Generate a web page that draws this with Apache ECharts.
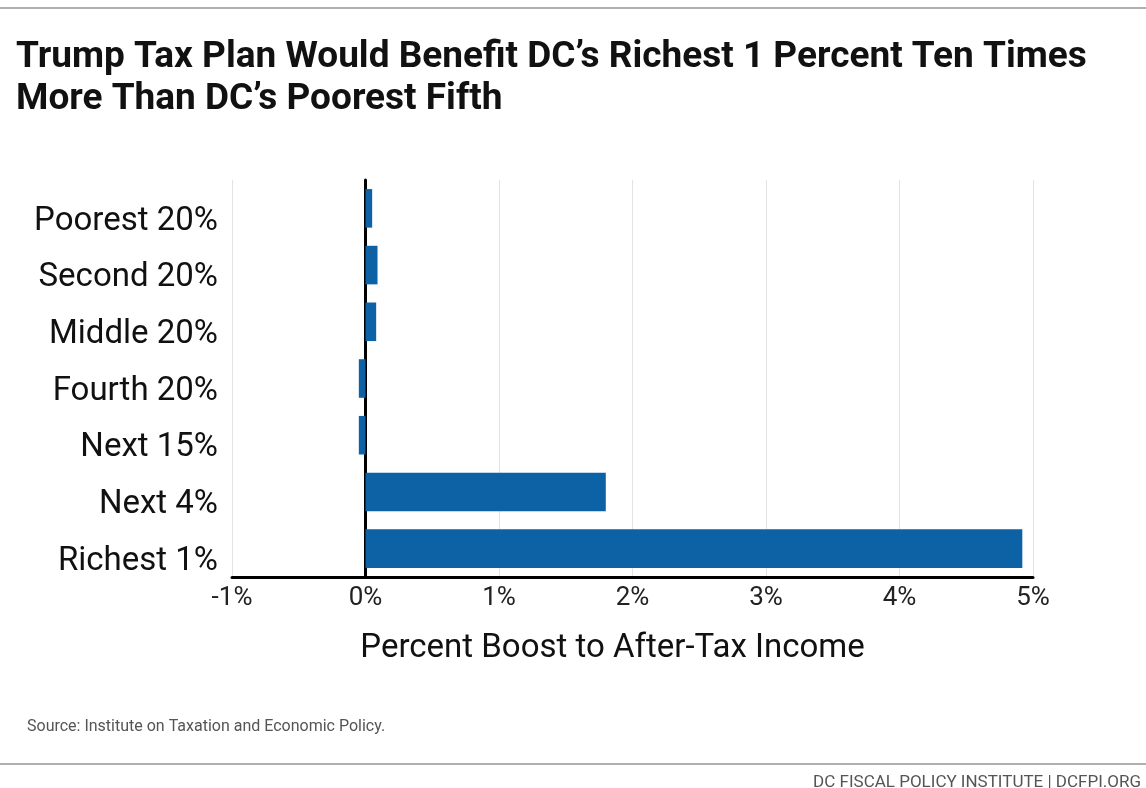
<!DOCTYPE html>
<html><head><meta charset="utf-8">
<script src="https://cdn.jsdelivr.net/npm/echarts@6/dist/echarts.min.js"></script>
<style>html,body{margin:0;padding:0;background:#fff}#c{width:1146px;height:788px}</style>
</head><body><div id="c"></div>
<script>
const categories = ["Poorest 20%","Second 20%","Middle 20%","Fourth 20%","Next 15%","Next 4%","Richest 1%"];
const values = [0.05, 0.09, 0.08, -0.05, -0.05, 1.8, 4.92];
const xTicks = [-1, 0, 1, 2, 3, 4, 5];
const titleText = "Trump Tax Plan Would Benefit DC\u2019s Richest 1 Percent Ten Times\nMore Than DC\u2019s Poorest Fifth";
const axisName = "Percent Boost to After-Tax Income";
const sourceText = "Source: Institute on Taxation and Economic Policy.";
const footerText = "DC FISCAL POLICY INSTITUTE | DCFPI.ORG";

const chart = echarts.init(document.getElementById('c'), null, {renderer:'canvas'});
chart.setOption({
  animation:false,
  backgroundColor:'#fff',
  textStyle:{fontFamily:'Roboto'},
  title:{text:titleText,left:11,top:32,textStyle:{fontFamily:'Roboto',fontWeight:'bold',fontSize:37,color:'#111',lineHeight:42}},
  grid:{left:232,right:113,top:180,bottom:211,containLabel:false},
  xAxis:{type:'value',min:xTicks[0],max:xTicks[xTicks.length-1],interval:1,
    axisLine:{show:true,onZero:false,lineStyle:{color:'#000',width:3}},
    axisTick:{show:false},
    axisLabel:{formatter:'{value}%',fontSize:26,color:'#222',margin:8,fontFamily:'Roboto'},
    splitLine:{show:true,lineStyle:{color:'#e3e3e3',width:1}},
    name:axisName,nameLocation:'middle',nameGap:55,
    nameTextStyle:{fontSize:33,color:'#111',fontFamily:'Roboto',padding:[0,40,0,0]}
  },
  yAxis:{type:'category',data:categories,inverse:true,
    axisLine:{show:true,onZero:true,lineStyle:{color:'#000',width:3}},
    axisTick:{show:false},
    axisLabel:{fontSize:33,color:'#111',margin:14,fontFamily:'Roboto',verticalAlign:'top',lineHeight:26}
  },
  series:[{type:'bar',data:values,barCategoryGap:'32%',itemStyle:{color:'#0d62a6'}}],
  graphic:[
    {type:'rect',shape:{x:0,y:7,width:1146,height:2},style:{fill:'#b0b0b0'}},
    {type:'rect',shape:{x:0,y:763,width:1146,height:2},style:{fill:'#b0b0b0'}},
    {type:'text',left:27,top:719,style:{text:sourceText,fontSize:16,fill:'#555',fontFamily:'Roboto'}},
    {type:'text',right:5,top:774,style:{text:footerText,fontSize:17,fill:'#555',fontFamily:'Roboto'}}
  ]
});
</script></body></html>
